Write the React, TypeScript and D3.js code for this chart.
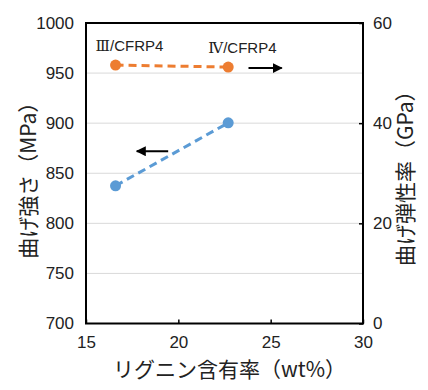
import React, { useRef, useEffect } from 'react';
import * as d3 from 'd3';

// lignin content (wt%)
const lignin = [16.6, 22.7];
// flexural strength (MPa), left axis
const strength = [837.5, 900.3];
// flexural modulus (GPa), right axis
const modulus = [51.6, 51.2];
const sampleLabels = [
  { num: 'Ⅲ', rest: '/CFRP4' },
  { num: 'Ⅳ', rest: '/CFRP4' },
];

const xTicks = [15, 20, 25, 30];
const yLeftTicks = [700, 750, 800, 850, 900, 950, 1000];
const yRightTicks = [0, 20, 40, 60];

// annotation arrows, in data units
const leftArrow = { x1: 19.45, x2: 17.75, y: 872 };
const rightArrow = { x1: 23.8, x2: 25.6, y: 51 };

const BLUE = '#5b9bd5';
const ORANGE = '#ed7d31';
const NUM_FONT = '"Liberation Sans Narrow", "Liberation Sans", Arial, sans-serif';
const JP_FONT = '"Noto Sans CJK JP", sans-serif';

function App() {
  const ref = useRef<SVGSVGElement>(null);

  useEffect(() => {
    const svg = d3.select(ref.current);
    svg.selectAll('*').remove();

    const margin = { top: 23, right: 65, bottom: 66.5, left: 86 };
    const W = 428, H = 390;
    const width = W - margin.left - margin.right;
    const height = H - margin.top - margin.bottom;

    const x = d3.scaleLinear().domain([15, 30]).range([0, width]);
    const yL = d3.scaleLinear().domain([700, 1000]).range([height, 0]);
    const yR = d3.scaleLinear().domain([0, 60]).range([height, 0]);

    const defs = svg.append('defs');
    defs.append('marker')
      .attr('id', 'arrowhead')
      .attr('viewBox', '0 0 10 10')
      .attr('refX', 9).attr('refY', 5)
      .attr('markerWidth', 5).attr('markerHeight', 5)
      .attr('orient', 'auto')
      .append('path')
      .attr('d', 'M0,0 L10,5 L0,10 z')
      .attr('fill', '#000');

    const g = svg.append('g').attr('transform', `translate(${margin.left},${margin.top})`);

    // gridlines
    g.append('g')
      .selectAll('line')
      .data(yLeftTicks.filter(d => d > 700 && d < 1000))
      .enter().append('line')
      .attr('x1', 0).attr('x2', width)
      .attr('y1', d => yL(d)).attr('y2', d => yL(d))
      .attr('stroke', '#d9d9d9')
      .attr('stroke-width', 1);

    const fmt = d3.format('d');
    // left axis
    const axL = g.append('g').call(d3.axisLeft(yL).tickValues(yLeftTicks).tickFormat(fmt).tickSize(0).tickPadding(12));
    // right axis
    const axR = g.append('g').attr('transform', `translate(${width},0)`)
      .call(d3.axisRight(yR).tickValues(yRightTicks).tickFormat(fmt).tickSize(-4).tickPadding(10));
    // bottom axis
    const axB = g.append('g').attr('transform', `translate(0,${height})`)
      .call(d3.axisBottom(x).tickValues(xTicks).tickFormat(fmt).tickSize(-4).tickPadding(12));

    [axL, axR, axB].forEach(ax => {
      ax.select('.domain').remove();
      ax.selectAll('line').attr('stroke', '#000').attr('stroke-width', 1.5);
      ax.selectAll('text')
        .attr('font-family', NUM_FONT)
        .attr('font-size', 17)
        .attr('fill', '#222');
    });
    axB.selectAll('text').attr('dy', '0.72em');

    // frame
    g.append('rect')
      .attr('x', 0).attr('y', 0)
      .attr('width', width).attr('height', height)
      .attr('fill', 'none')
      .attr('stroke', '#000')
      .attr('stroke-width', 2);

    // series: strength (left)
    const pts = lignin.map((v, i) => ({ x: v, s: strength[i], m: modulus[i] }));
    g.append('path')
      .datum(pts)
      .attr('fill', 'none')
      .attr('stroke', BLUE)
      .attr('stroke-width', 3)
      .attr('stroke-dasharray', '8,5')
      .attr('d', d3.line<any>().x(d => x(d.x)).y(d => yL(d.s)));
    g.selectAll('.ps').data(pts).enter().append('circle')
      .attr('cx', d => x(d.x)).attr('cy', d => yL(d.s))
      .attr('r', 5.5).attr('fill', BLUE);

    // series: modulus (right)
    g.append('path')
      .datum(pts)
      .attr('fill', 'none')
      .attr('stroke', ORANGE)
      .attr('stroke-width', 3)
      .attr('stroke-dasharray', '8,5')
      .attr('d', d3.line<any>().x(d => x(d.x)).y(d => yR(d.m)));
    g.selectAll('.pm').data(pts).enter().append('circle')
      .attr('cx', d => x(d.x)).attr('cy', d => yR(d.m))
      .attr('r', 5.5).attr('fill', ORANGE);

    // sample labels
    const lab = g.selectAll('.lab').data(sampleLabels).enter().append('text')
      .attr('x', (d, i) => x(lignin[i]) - 20)
      .attr('y', (d, i) => yR(modulus[i]) - 14)
      .attr('font-family', NUM_FONT)
      .attr('font-size', 15)
      .attr('fill', '#222');
    lab.append('tspan').attr('font-family', '"DejaVu Serif", serif').attr('font-size', 15).text(d => d.num);
    lab.append('tspan').text(d => d.rest);

    // arrows
    g.append('line')
      .attr('x1', x(leftArrow.x1)).attr('x2', x(leftArrow.x2))
      .attr('y1', yL(leftArrow.y)).attr('y2', yL(leftArrow.y))
      .attr('stroke', '#000').attr('stroke-width', 2)
      .attr('marker-end', 'url(#arrowhead)');
    g.append('line')
      .attr('x1', x(rightArrow.x1)).attr('x2', x(rightArrow.x2))
      .attr('y1', yR(rightArrow.y)).attr('y2', yR(rightArrow.y))
      .attr('stroke', '#000').attr('stroke-width', 2)
      .attr('marker-end', 'url(#arrowhead)');

    // axis titles
    svg.append('text')
      .attr('x', margin.left + width / 2 + 5)
      .attr('y', 377)
      .attr('text-anchor', 'middle')
      .attr('font-family', JP_FONT)
      .attr('font-size', 21)
      .attr('fill', '#222')
      .text('リグニン含有率（wt%）');

    svg.append('text')
      .attr('transform', `translate(36,${margin.top + height / 2 + 2}) rotate(-90)`)
      .attr('text-anchor', 'middle')
      .attr('font-family', JP_FONT)
      .attr('font-size', 21)
      .attr('fill', '#222')
      .text('曲げ強さ（MPa）');

    svg.append('text')
      .attr('transform', `translate(413,${margin.top + height / 2}) rotate(-90)`)
      .attr('text-anchor', 'middle')
      .attr('font-family', JP_FONT)
      .attr('font-size', 21)
      .attr('fill', '#222')
      .text('曲げ弾性率（GPa）');
  }, []);

  return (
    <svg
      ref={ref}
      width={428}
      height={390}
      style={{ position: 'absolute', left: 0, top: 0, background: '#fff' }}
    ></svg>
  );
}

export default App;
